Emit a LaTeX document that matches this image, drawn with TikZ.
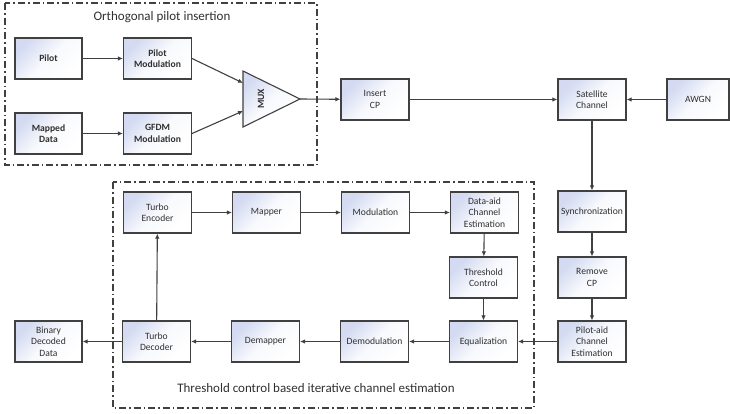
\documentclass[tikz,border=0pt]{standalone}
\usepackage{fontspec}
\setmainfont{Carlito}
\usetikzlibrary{arrows.meta,positioning}

\definecolor{boxline}{HTML}{404040}
\definecolor{boxblue}{HTML}{D3DAF1}
\definecolor{txtgray}{HTML}{303030}

\tikzset{
  blk/.style={draw=boxline, line width=1.1pt, minimum width=68pt, minimum height=41pt,
    align=center, inner sep=1pt, text=txtgray, font=\fontsize{9.6}{11.5}\selectfont,
    top color=boxblue, bottom color=white, middle color=white!85!boxblue, shading angle=45},
  blkb/.style={blk, font=\fontsize{9.6}{11.5}\selectfont\bfseries},
  flow/.style={draw=boxline, line width=1.1pt, -{Latex[length=5pt,width=4.5pt]}},
  frame/.style={draw=boxline, line width=1.2pt, dash pattern=on 7pt off 3pt on 1.5pt off 3pt},
  ttl/.style={text=txtgray, font=\fontsize{13}{15}\selectfont}
}

\begin{document}
\begin{tikzpicture}[x=1pt,y=-1pt,node distance=109pt,on grid]
\useasboundingbox (0,0) rectangle (730,413);

% orthogonal pilot insertion
\draw[frame] (5,3) rectangle (317,165);
\node[ttl] (t1) at (162,17) {Orthogonal pilot insertion};
\node[blkb, minimum width=67pt] (pilot) at (48.5,58.5) {Pilot};
\node[blkb] (pmod) [right=of pilot] {Pilot\\Modulation};
\node[blkb, minimum width=67pt] (mdata) at (48.5,133.5) {Mapped\\Data};
\node[blkb] (gfdm) [right=of mdata] {GFDM\\Modulation};
\draw[draw=boxline, line width=1.1pt, top color=boxblue, bottom color=white, middle color=white!85!boxblue, shading angle=45]
  (243,71) -- (300,99) -- (243,127) -- cycle;
\node[rotate=90, text=txtgray, font=\fontsize{9.6}{11}\selectfont\bfseries] (mux) at (261,99) {MUX};
\coordinate (muxa) at (243,83);
\coordinate (muxb) at (243,111);
\coordinate (muxo) at (300,99);

% channel
\node[blk] (icp) at (375,99.5) {Insert\\CP};
\node[blk] (sat) at (592,99.5) {Satellite\\Channel};
\node[blk, minimum width=62pt] (awgn) at (698,99.5) {AWGN};
\node[blk] (sync) at (592,211.5) {Synchronization};
\node[blk] (rcp) at (592,277.5) {Remove\\CP};
\node[blk] (pace) at (592,341.5) {Pilot-aid\\Channel\\Estimation};

% threshold control based iterative channel estimation
\draw[frame] (113,182) rectangle (534,408);
\node[ttl] (t2) at (316,388) {Threshold control based iterative channel estimation};
\node[blk] (tenc) at (157.5,212.5) {Turbo\\Encoder};
\node[blk] (mapper) [right=of tenc] {Mapper};
\node[blk] (modu) [right=of mapper] {Modulation};
\node[blk] (dace) [right=of modu] {Data-aid\\Channel\\Estimation};
\node[blk] (thr) at (483.5,277.5) {Threshold\\Control};
\node[blk] (equ) at (483.5,341.5) {Equalization};
\node[blk] (demod) [left=of equ] {Demodulation};
\node[blk] (demap) [left=of demod] {Demapper};
\node[blk] (tdec) [left=of demap] {Turbo\\Decoder};
\node[blk, minimum width=67pt] (bdd) at (48.5,341.5) {Binary\\Decoded\\Data};

\draw[flow] (pilot) -- (pmod);
\draw[flow] (mdata) -- (gfdm);
\draw[flow] (pmod.east) -- (muxa);
\draw[flow] (gfdm.east) -- (muxb);
\draw[flow] (muxo) -- (icp);
\draw[flow] (icp) -- (sat);
\draw[flow] (awgn) -- (sat);
\draw[flow] (sat) -- (sync);
\draw[flow] (sync) -- (rcp);
\draw[flow] (rcp) -- (pace);
\draw[flow] (pace) -- (equ);
\draw[flow] (equ) -- (demod);
\draw[flow] (demod) -- (demap);
\draw[flow] (demap) -- (tdec);
\draw[flow] (tdec) -- (bdd);
\draw[flow] (tdec) -- (tenc);
\draw[flow] (tenc) -- (mapper);
\draw[flow] (mapper) -- (modu);
\draw[flow] (modu) -- (dace);
\draw[flow] (dace) -- (thr);
\draw[flow] (thr) -- (equ);
\end{tikzpicture}
\end{document}
